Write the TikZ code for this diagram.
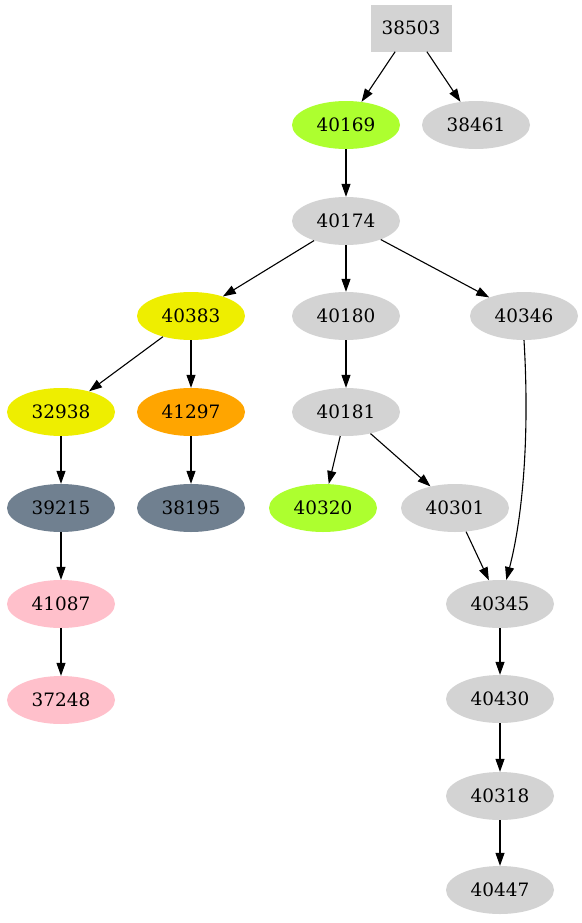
\documentclass[tikz,border=0pt]{standalone}
\usepackage{fontspec}
\setmainfont{DejaVu Serif}
\usetikzlibrary{arrows.meta,shapes.geometric}
\definecolor{gvGray}{HTML}{D3D3D3}
\definecolor{gvLime}{HTML}{ADFF2F}
\definecolor{gvYellow}{HTML}{EEEE00}
\definecolor{gvOrange}{HTML}{FFA500}
\definecolor{gvSlate}{HTML}{708090}
\definecolor{gvPink}{HTML}{FFC0CB}
\tikzset{
    every picture/.style={x=1bp,y=-1bp},
    % node styles
    gnode/.style={ellipse,fill=gvGray,draw=none,minimum width=108bp,minimum height=48bp,inner sep=0pt,font=\fontsize{18.5}{20}\selectfont},
    gbox/.style={rectangle,fill=gvGray,draw=none,minimum width=81bp,minimum height=47bp,inner sep=0pt,font=\fontsize{18.5}{20}\selectfont},
    % edge style
    edge/.style={-{Triangle[length=13bp,width=9bp]},line width=1.1bp,black}
}
\begin{document}
\begin{tikzpicture}
    \useasboundingbox (0,0) rectangle (582,923);
    % Nodes
    \node[gbox] (n38503) at (411,28) {38503};
    \node[gnode,fill=gvLime] (n40169) at (346,125) {40169};
    \node[gnode] (n38461) at (476,125) {38461};
    \node[gnode] (n40174) at (346,221) {40174};
    \node[gnode,fill=gvYellow] (n40383) at (191,316) {40383};
    \node[gnode] (n40180) at (346,316) {40180};
    \node[gnode] (n40346) at (524,316) {40346};
    \node[gnode,fill=gvYellow] (n32938) at (61,412) {32938};
    \node[gnode,fill=gvOrange] (n41297) at (191,412) {41297};
    \node[gnode] (n40181) at (346,412) {40181};
    \node[gnode,fill=gvSlate] (n39215) at (61,508) {39215};
    \node[gnode,fill=gvSlate] (n38195) at (191,508) {38195};
    \node[gnode,fill=gvLime] (n40320) at (323,508) {40320};
    \node[gnode] (n40301) at (455,508) {40301};
    \node[gnode,fill=gvPink] (n41087) at (61,604) {41087};
    \node[gnode] (n40345) at (500,604) {40345};
    \node[gnode,fill=gvPink] (n37248) at (61,700) {37248};
    \node[gnode] (n40430) at (500,699) {40430};
    \node[gnode] (n40318) at (500,796) {40318};
    \node[gnode] (n40447) at (500,890) {40447};
    % Edges
    \draw[edge] (n38503) -- (n40169);
    \draw[edge] (n38503) -- (n38461);
    \draw[edge] (n40169) -- (n40174);
    \draw[edge] (n40174) -- (n40383);
    \draw[edge] (n40174) -- (n40180);
    \draw[edge] (n40174) -- (n40346);
    \draw[edge] (n40383) -- (n32938);
    \draw[edge] (n40383) -- (n41297);
    \draw[edge] (n41297) -- (n38195);
    \draw[edge] (n32938) -- (n39215);
    \draw[edge] (n39215) -- (n41087);
    \draw[edge] (n41087) -- (n37248);
    \draw[edge] (n40180) -- (n40181);
    \draw[edge] (n40181) -- (n40320);
    \draw[edge] (n40181) -- (n40301);
    \draw[edge] (n40301) -- (n40345);
    \draw[edge] (n40346.south) .. controls (530,440) and (522,520) .. (n40345);
    \draw[edge] (n40345) -- (n40430);
    \draw[edge] (n40430) -- (n40318);
    \draw[edge] (n40318) -- (n40447);
\end{tikzpicture}
\end{document}
